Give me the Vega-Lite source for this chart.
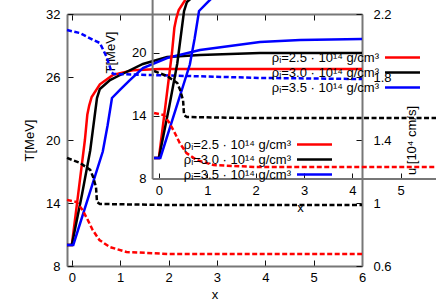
{
  "$schema": "https://vega.github.io/schema/vega-lite/v6.json",
  "width": 295,
  "height": 252,
  "autosize": {"type": "none"},
  "padding": {"left": 67, "top": 14, "right": 74, "bottom": 39},
  "datasets": {
    "T": [
      {"rho": "ρᵢ=2.5 · 10¹⁴ g/cm³", "x": -0.1, "T": 10},
      {"rho": "ρᵢ=2.5 · 10¹⁴ g/cm³", "x": 0, "T": 10},
      {"rho": "ρᵢ=2.5 · 10¹⁴ g/cm³", "x": 0.13, "T": 14.8},
      {"rho": "ρᵢ=2.5 · 10¹⁴ g/cm³", "x": 0.27, "T": 20.0},
      {"rho": "ρᵢ=2.5 · 10¹⁴ g/cm³", "x": 0.32, "T": 22.4},
      {"rho": "ρᵢ=2.5 · 10¹⁴ g/cm³", "x": 0.36, "T": 23.3},
      {"rho": "ρᵢ=2.5 · 10¹⁴ g/cm³", "x": 0.41, "T": 24.1},
      {"rho": "ρᵢ=2.5 · 10¹⁴ g/cm³", "x": 0.58, "T": 25.3},
      {"rho": "ρᵢ=2.5 · 10¹⁴ g/cm³", "x": 0.85, "T": 26.2},
      {"rho": "ρᵢ=2.5 · 10¹⁴ g/cm³", "x": 1.26, "T": 26.65},
      {"rho": "ρᵢ=2.5 · 10¹⁴ g/cm³", "x": 1.82, "T": 26.76},
      {"rho": "ρᵢ=2.5 · 10¹⁴ g/cm³", "x": 6, "T": 26.76},
      {"rho": "ρᵢ=3.0 · 10¹⁴ g/cm³", "x": -0.1, "T": 10},
      {"rho": "ρᵢ=3.0 · 10¹⁴ g/cm³", "x": 0, "T": 10},
      {"rho": "ρᵢ=3.0 · 10¹⁴ g/cm³", "x": 0.21, "T": 14.8},
      {"rho": "ρᵢ=3.0 · 10¹⁴ g/cm³", "x": 0.38, "T": 19.0},
      {"rho": "ρᵢ=3.0 · 10¹⁴ g/cm³", "x": 0.52, "T": 24.0},
      {"rho": "ρᵢ=3.0 · 10¹⁴ g/cm³", "x": 0.58, "T": 24.86},
      {"rho": "ρᵢ=3.0 · 10¹⁴ g/cm³", "x": 0.79, "T": 25.71},
      {"rho": "ρᵢ=3.0 · 10¹⁴ g/cm³", "x": 1.0, "T": 26.19},
      {"rho": "ρᵢ=3.0 · 10¹⁴ g/cm³", "x": 1.47, "T": 27.24},
      {"rho": "ρᵢ=3.0 · 10¹⁴ g/cm³", "x": 1.97, "T": 27.9},
      {"rho": "ρᵢ=3.0 · 10¹⁴ g/cm³", "x": 2.65, "T": 28.1},
      {"rho": "ρᵢ=3.0 · 10¹⁴ g/cm³", "x": 3.89, "T": 28.29},
      {"rho": "ρᵢ=3.0 · 10¹⁴ g/cm³", "x": 6, "T": 28.29},
      {"rho": "ρᵢ=3.5 · 10¹⁴ g/cm³", "x": -0.1, "T": 10},
      {"rho": "ρᵢ=3.5 · 10¹⁴ g/cm³", "x": 0.03, "T": 10},
      {"rho": "ρᵢ=3.5 · 10¹⁴ g/cm³", "x": 0.64, "T": 18.9},
      {"rho": "ρᵢ=3.5 · 10¹⁴ g/cm³", "x": 0.74, "T": 21.4},
      {"rho": "ρᵢ=3.5 · 10¹⁴ g/cm³", "x": 0.83, "T": 24.0},
      {"rho": "ρᵢ=3.5 · 10¹⁴ g/cm³", "x": 1.0, "T": 24.8},
      {"rho": "ρᵢ=3.5 · 10¹⁴ g/cm³", "x": 1.2, "T": 25.7},
      {"rho": "ρᵢ=3.5 · 10¹⁴ g/cm³", "x": 1.47, "T": 26.86},
      {"rho": "ρᵢ=3.5 · 10¹⁴ g/cm³", "x": 1.97, "T": 27.81},
      {"rho": "ρᵢ=3.5 · 10¹⁴ g/cm³", "x": 2.65, "T": 28.57},
      {"rho": "ρᵢ=3.5 · 10¹⁴ g/cm³", "x": 3.89, "T": 29.33},
      {"rho": "ρᵢ=3.5 · 10¹⁴ g/cm³", "x": 4.72, "T": 29.52},
      {"rho": "ρᵢ=3.5 · 10¹⁴ g/cm³", "x": 6, "T": 29.62}
    ],
    "U": [
      {"rho": "ρᵢ=2.5 · 10¹⁴ g/cm³", "x": -0.1, "u": 1.02},
      {"rho": "ρᵢ=2.5 · 10¹⁴ g/cm³", "x": 0.1, "u": 1.006},
      {"rho": "ρᵢ=2.5 · 10¹⁴ g/cm³", "x": 0.22, "u": 0.956},
      {"rho": "ρᵢ=2.5 · 10¹⁴ g/cm³", "x": 0.33, "u": 0.892},
      {"rho": "ρᵢ=2.5 · 10¹⁴ g/cm³", "x": 0.43, "u": 0.829},
      {"rho": "ρᵢ=2.5 · 10¹⁴ g/cm³", "x": 0.57, "u": 0.765},
      {"rho": "ρᵢ=2.5 · 10¹⁴ g/cm³", "x": 0.78, "u": 0.721},
      {"rho": "ρᵢ=2.5 · 10¹⁴ g/cm³", "x": 1.13, "u": 0.689},
      {"rho": "ρᵢ=2.5 · 10¹⁴ g/cm³", "x": 1.55, "u": 0.683},
      {"rho": "ρᵢ=2.5 · 10¹⁴ g/cm³", "x": 2.02, "u": 0.676},
      {"rho": "ρᵢ=2.5 · 10¹⁴ g/cm³", "x": 6, "u": 0.676},
      {"rho": "ρᵢ=3.0 · 10¹⁴ g/cm³", "x": -0.1, "u": 1.286},
      {"rho": "ρᵢ=3.0 · 10¹⁴ g/cm³", "x": 0.17, "u": 1.254},
      {"rho": "ρᵢ=3.0 · 10¹⁴ g/cm³", "x": 0.38, "u": 1.21},
      {"rho": "ρᵢ=3.0 · 10¹⁴ g/cm³", "x": 0.44, "u": 1.165},
      {"rho": "ρᵢ=3.0 · 10¹⁴ g/cm³", "x": 0.5, "u": 1.1},
      {"rho": "ρᵢ=3.0 · 10¹⁴ g/cm³", "x": 0.52, "u": 1.006},
      {"rho": "ρᵢ=3.0 · 10¹⁴ g/cm³", "x": 0.58, "u": 0.994},
      {"rho": "ρᵢ=3.0 · 10¹⁴ g/cm³", "x": 2.0, "u": 0.987},
      {"rho": "ρᵢ=3.0 · 10¹⁴ g/cm³", "x": 6, "u": 0.987},
      {"rho": "ρᵢ=3.5 · 10¹⁴ g/cm³", "x": -0.1, "u": 2.098},
      {"rho": "ρᵢ=3.5 · 10¹⁴ g/cm³", "x": 0.17, "u": 2.079},
      {"rho": "ρᵢ=3.5 · 10¹⁴ g/cm³", "x": 0.44, "u": 2.035},
      {"rho": "ρᵢ=3.5 · 10¹⁴ g/cm³", "x": 0.58, "u": 2.016},
      {"rho": "ρᵢ=3.5 · 10¹⁴ g/cm³", "x": 0.72, "u": 1.927},
      {"rho": "ρᵢ=3.5 · 10¹⁴ g/cm³", "x": 0.82, "u": 1.832},
      {"rho": "ρᵢ=3.5 · 10¹⁴ g/cm³", "x": 0.86, "u": 1.819},
      {"rho": "ρᵢ=3.5 · 10¹⁴ g/cm³", "x": 3.89, "u": 1.794},
      {"rho": "ρᵢ=3.5 · 10¹⁴ g/cm³", "x": 6, "u": 1.787}
    ]
  },
  "config": {
    "font": "Liberation Sans",
    "view": {"stroke": null},
    "axis": {
      "grid": false,
      "labelFont": "Liberation Sans",
      "labelFontSize": 13,
      "labelColor": "#000000",
      "titleFont": "Liberation Sans",
      "titleFontSize": 13,
      "titleFontWeight": "normal",
      "titleColor": "#000000",
      "tickSize": -6,
      "tickColor": "#111111",
      "tickWidth": 1,
      "domainColor": "#777777",
      "domainWidth": 2,
      "labelFlush": false,
      "labelOverlap": false
    },
    "legend": {
      "orient": "none",
      "title": null,
      "direction": "vertical",
      "symbolType": "M-3,0H3",
      "symbolSize": 136,
      "symbolStrokeWidth": 2.5,
      "symbolDash": [],
      "symbolOffset": 110,
      "labelOffset": -31,
      "labelAlign": "right",
      "labelFontSize": 13,
      "labelFont": "Liberation Sans",
      "labelColor": "#000000",
      "rowPadding": 0,
      "padding": 0,
      "labelLimit": 300
    }
  },
  "layer": [
    {
      "layer": [
        {
          "data": {"name": "T"},
          "mark": {"type": "line", "strokeWidth": 2.5},
          "encoding": {
            "x": {"field": "x", "type": "quantitative", "scale": {"domain": [-0.1, 6], "nice": false, "zero": false},
              "axis": {"orient": "bottom", "values": [0, 1, 2, 3, 4, 5, 6], "title": "x", "labelPadding": 11, "titlePadding": 4}},
            "y": {"field": "T", "type": "quantitative", "scale": {"domain": [8, 32], "nice": false, "zero": false},
              "axis": {"orient": "left", "values": [8, 14, 20, 26, 32], "title": "T[MeV]", "labelPadding": 13, "titlePadding": 9}},
            "color": {"field": "rho", "type": "nominal",
              "scale": {"domain": ["ρᵢ=2.5 · 10¹⁴ g/cm³", "ρᵢ=3.0 · 10¹⁴ g/cm³", "ρᵢ=3.5 · 10¹⁴ g/cm³"], "range": ["#ff0000", "#000000", "#0000ff"]},
              "legend": {"legendX": 218, "legendY": 36}}
          }
        },
        {
          "data": {"name": "U"},
          "mark": {"type": "line", "strokeWidth": 2.5, "strokeDash": [5, 2.5]},
          "encoding": {
            "x": {"field": "x", "type": "quantitative", "scale": {"domain": [-0.1, 6], "nice": false, "zero": false},
              "axis": {"orient": "top", "values": [0, 1, 2, 3, 4, 5, 6], "labels": false, "title": null}},
            "y": {"field": "u", "type": "quantitative", "scale": {"domain": [0.6, 2.2], "nice": false, "zero": false},
              "axis": {"orient": "right", "values": [0.6, 1, 1.4, 1.8, 2.2], "format": "~g", "title": "u [10⁴ cm/s]", "titleAngle": 270, "titleBaseline": "top", "labelPadding": 17, "titlePadding": 14}},
            "color": {"field": "rho", "type": "nominal",
              "scale": {"domain": ["ρᵢ=2.5 · 10¹⁴ g/cm³", "ρᵢ=3.0 · 10¹⁴ g/cm³", "ρᵢ=3.5 · 10¹⁴ g/cm³"], "range": ["#ff0000", "#000000", "#0000ff"]},
              "legend": {"legendX": 218, "legendY": 36}}
          }
        }
      ],
      "resolve": {"scale": {"y": "independent"}, "axis": {"x": "independent"}}
    },
    {
      "layer": [
        {
          "layer": [
            {
              "data": {"name": "T"},
              "mark": {"type": "line", "strokeWidth": 2.5},
              "encoding": {
                "x": {"field": "x", "type": "quantitative", "scale": {"domain": [-1.9, 5.2], "range": [0, 343.4], "nice": false, "zero": false},
                  "axis": {"orient": "bottom", "offset": -87, "domain": false, "values": [0, 1, 2, 3, 4, 5], "title": "x", "titleX": 233, "labelPadding": 11, "titlePadding": 4}},
                "y": {"field": "T", "type": "quantitative", "scale": {"domain": [-0.286, 23.714], "nice": false, "zero": false},
                  "axis": {"orient": "left", "offset": -86, "domain": false, "values": [8, 14, 20], "title": "T[MeV]", "titleY": 38, "labelPadding": 13, "titlePadding": 14}},
                "color": {"field": "rho", "type": "nominal",
                  "scale": {"domain": ["ρᵢ=2.5 · 10¹⁴ g/cm³", "ρᵢ=3.0 · 10¹⁴ g/cm³", "ρᵢ=3.5 · 10¹⁴ g/cm³"], "range": ["#ff0000", "#000000", "#0000ff"]},
                  "legend": {"legendX": 130, "legendY": 123}}
              }
            },
            {
              "data": {"values": [{}]},
              "mark": {"type": "rule", "color": "#777777", "strokeWidth": 2},
              "encoding": {
                "x": {"datum": -0.13, "type": "quantitative", "scale": {"domain": [-1.9, 5.2], "range": [0, 343.4], "nice": false, "zero": false}},
                "y": {"datum": 8, "type": "quantitative", "scale": {"domain": [-0.286, 23.714], "nice": false, "zero": false}},
                "y2": {"datum": 40}
              }
            },
            {
              "data": {"values": [{}]},
              "mark": {"type": "rule", "color": "#777777", "strokeWidth": 2},
              "encoding": {
                "x": {"datum": -0.13, "type": "quantitative", "scale": {"domain": [-1.9, 5.2], "range": [0, 343.4], "nice": false, "zero": false}},
                "x2": {"datum": 9},
                "y": {"datum": 8, "type": "quantitative", "scale": {"domain": [-0.286, 23.714], "nice": false, "zero": false}}
              }
            }
          ]
        },
        {
          "data": {"name": "U"},
          "mark": {"type": "line", "strokeWidth": 2.5, "strokeDash": [5, 2.5]},
          "encoding": {
            "x": {"field": "x", "type": "quantitative", "scale": {"domain": [-1.9, 5.2], "range": [0, 343.4], "nice": false, "zero": false}},
            "y": {"field": "u", "type": "quantitative", "scale": {"domain": [0.048, 1.648], "nice": false, "zero": false}, "axis": null},
            "color": {"field": "rho", "type": "nominal",
              "scale": {"domain": ["ρᵢ=2.5 · 10¹⁴ g/cm³", "ρᵢ=3.0 · 10¹⁴ g/cm³", "ρᵢ=3.5 · 10¹⁴ g/cm³"], "range": ["#ff0000", "#000000", "#0000ff"]},
              "legend": {"legendX": 130, "legendY": 123}}
          }
        }
      ],
      "resolve": {"scale": {"y": "independent"}}
    }
  ],
  "resolve": {"scale": {"x": "independent", "y": "independent", "color": "independent"}}
}
